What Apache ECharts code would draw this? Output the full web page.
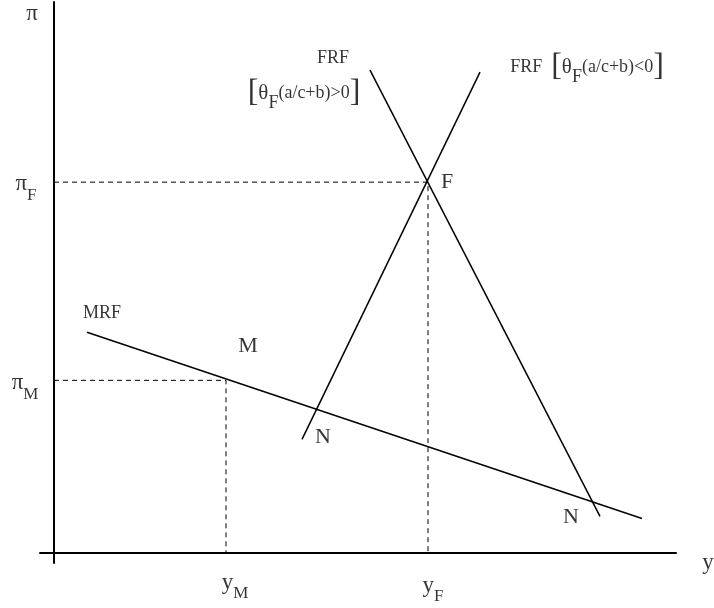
<!DOCTYPE html>
<html><head><meta charset="utf-8">
<script src="https://cdn.jsdelivr.net/npm/echarts@6/dist/echarts.min.js"></script>
<style>html,body{margin:0;padding:0;background:#fff}#c{width:714px;height:608px}</style>
</head><body><div id="c"></div>
<script>
// ---- data (abstract diagram units, origin at 0,0) ----
const xRange = [-1.4, 62.2];
const yRange = [-1.05, 55.0];
const mrf = [[3.3, 22.0], [58.8, 3.4]];
const frfFalling = [[31.6, 48.2], [54.6, 3.6]];   // θF(a/c+b) > 0
const frfRising = [[42.6, 48.0], [24.8, 11.3]];   // θF(a/c+b) < 0
const pointM = [17.2, 17.2];
const pointF = [37.4, 37.0];
const pointN1 = [26.3, 14.3];
const pointN2 = [53.7, 5.1];

const SERIF = 'Liberation Serif';
const rich = {
  big: {fontSize: 22, fontFamily: SERIF, color: '#000'},
  pi: {fontSize: 23, fontFamily: SERIF, color: '#000'},
  sub: {fontSize: 17, fontFamily: SERIF, color: '#000', padding: [22, 0, 0, 0]},
  sm: {fontSize: 18, fontFamily: SERIF, color: '#000'},
  ex: {fontSize: 18, fontFamily: SERIF, color: '#000'},
  br: {fontSize: 32, fontFamily: SERIF, color: '#000'},
  th: {fontSize: 21, fontFamily: SERIF, color: '#000'},
  sub2: {fontSize: 18, fontFamily: SERIF, color: '#000', padding: [20, 0, 0, 0]}
};

const labels = [
  {at: [0, yRange[1]], text: '{pi|π}', offset: [-22, 12]},
  {at: [0, pointF[1]], text: '{pi|π}{sub|F}', offset: [-28, 2]},
  {at: [0, pointM[1]], text: '{pi|π}{sub|M}', offset: [-29, 3]},
  {at: [pointM[0], 0], text: '{pi|y}{sub|M}', offset: [9, 30]},
  {at: [pointF[0], 0], text: '{pi|y}{sub|F}', offset: [5, 33]},
  {at: [xRange[1], 0], text: '{pi|y}', offset: [32, 10]},
  {at: mrf[0], text: '{sm|MRF}', offset: [15, -19]},
  {at: pointM, text: '{big|M}', offset: [22, -34]},
  {at: pointF, text: '{big|F}', offset: [19, 0]},
  {at: pointN1, text: '{big|N}', offset: [6, 28]},
  {at: pointN2, text: '{big|N}', offset: [-20, 16]},
  {at: frfFalling[0], text: '{sm|FRF}', offset: [-37, -12]},
  {at: frfFalling[0], text: '{br|[}{th|θ}{sub2|F}{ex|(a/c+b)>0}{br|]}', offset: [-66, 23]},
  {at: frfRising[0], text: '{sm|FRF  }{br|[}{th|θ}{sub2|F}{ex|(a/c+b)<0}{br|]}', offset: [107, -5]}
];

const solid = {color: '#000', width: 1.5};
const dashed = {color: '#000', width: 1, type: [5, 4]};
function lineSeries(data, style) {
  return {type: 'line', data: data, symbol: 'none', lineStyle: style, silent: true, animation: false};
}

const chart = echarts.init(document.getElementById('c'), null, {renderer: 'canvas'});
chart.setOption({
  backgroundColor: '#fff',
  animation: false,
  grid: {left: 40, right: 38, top: 2, bottom: 45},
  xAxis: {type: 'value', min: xRange[0], max: xRange[1],
    axisLine: {show: true, onZero: true, lineStyle: {color: '#000', width: 2}},
    axisTick: {show: false}, axisLabel: {show: false}, splitLine: {show: false}},
  yAxis: {type: 'value', min: yRange[0], max: yRange[1],
    axisLine: {show: true, onZero: true, lineStyle: {color: '#000', width: 2}},
    axisTick: {show: false}, axisLabel: {show: false}, splitLine: {show: false}},
  series: [
    lineSeries([[0, pointF[1]], pointF, [pointF[0], 0]], dashed),
    lineSeries([[0, pointM[1]], pointM, [pointM[0], 0]], dashed),
    lineSeries(mrf, solid),
    lineSeries(frfFalling, solid),
    lineSeries(frfRising, solid),
    {
      type: 'scatter', symbolSize: 0, silent: true, animation: false,
      data: labels.map(l => ({
        value: l.at,
        label: {show: true, position: 'inside', offset: l.offset,
          formatter: l.text, rich: rich, align: 'center', verticalAlign: 'middle'}
      }))
    }
  ]
});
</script></body></html>
